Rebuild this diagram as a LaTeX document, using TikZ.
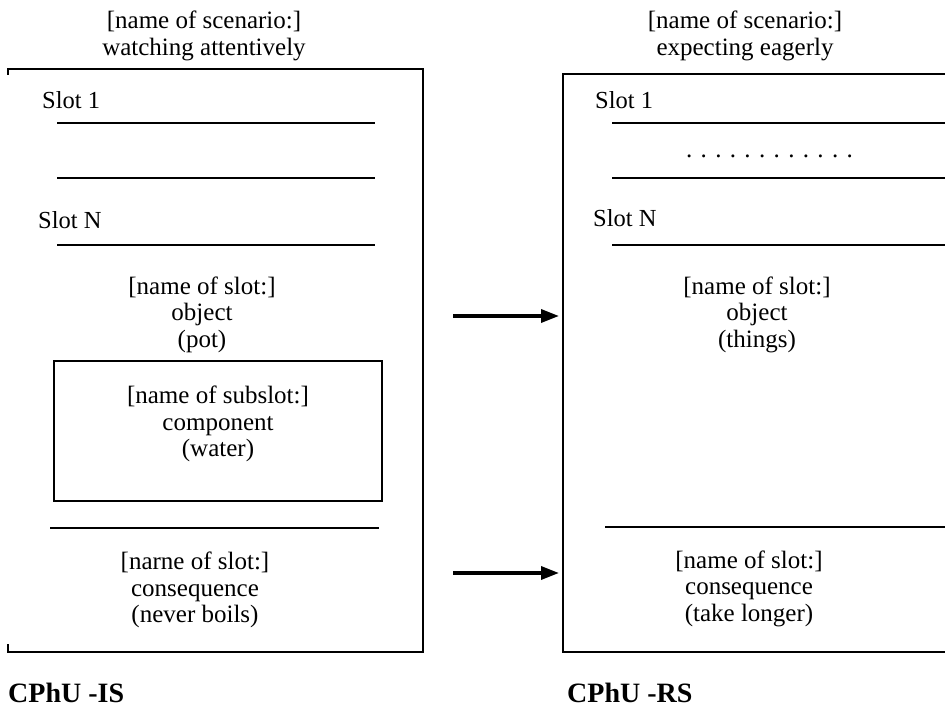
\documentclass[tikz,border=0pt]{standalone}
\usepackage{fontspec}
\setmainfont{Liberation Serif}
\usetikzlibrary{arrows.meta}
\begin{document}
\begin{tikzpicture}[x=1bp,y=-1bp,
  txt/.style={font=\fontsize{25bp}{26.5bp}\selectfont, inner sep=0pt, align=center},
  slotlbl/.style={font=\fontsize{24.5bp}{26.5bp}\selectfont, inner sep=0pt, anchor=west},
  unitlbl/.style={font=\fontsize{28bp}{30bp}\selectfont\bfseries, inner sep=0pt, anchor=west},
  frame/.style={line width=2.6bp},
  rule/.style={line width=2.6bp},
  thinrule/.style={line width=2bp},
  link/.style={line width=3.3bp, -{Triangle[length=18bp,width=13bp]}}
]
\useasboundingbox (0,0) rectangle (945,709);

% ---------- left scenario: watching attentively ----------
\node[txt] (titleL) at (204,36) {[name of scenario:]\\watching attentively};
\draw[frame] (8,75) -- (8,69) -- (423,69) -- (423,652) -- (8,652) -- (8,644);
\node[slotlbl] (slot1L) at (42,100) {Slot 1};
\draw[rule] (57,123) -- (375,123);
\draw[rule] (57,178) -- (375,178);
\node[slotlbl] (slotNL) at (38,220) {Slot N};
\draw[rule] (57,245) -- (375,245);
\node[txt] (objL) at (202,314.5) {[name of slot:]\\object\\(pot)};
\node[draw, frame, inner sep=0pt, minimum width=328bp, minimum height=140bp] (subslot) at (218,431) {};
\node[txt] (subslotTxt) at (218,424) {[name of subslot:]\\component\\(water)};
\draw[thinrule] (50,528) -- (379,528);
\node[txt] (consL) at (195,590) {[narne of slot:]\\consequence\\(never boils)};
\node[unitlbl] (unitL) at (8,693) {CPhU -IS};

% ---------- right scenario: expecting eagerly ----------
\node[txt] (titleR) at (745,36) {[name of scenario:]\\expecting eagerly};
\draw[frame] (945,74) -- (563,74) -- (563,652) -- (945,652);
\node[slotlbl] (slot1R) at (595,100) {Slot 1};
\draw[thinrule] (612,123) -- (945,123);
\node[txt] (dotsR) at (769.5,156) {. . . . . . . . . . . .};
\draw[thinrule] (612,178) -- (945,178);
\node[slotlbl] (slotNR) at (593,218) {Slot N};
\draw[thinrule] (612,245) -- (945,245);
\node[txt] (objR) at (757,314.5) {[name of slot:]\\object\\(things)};
\draw[thinrule] (605,527) -- (945,527);
\node[txt] (consR) at (749,588.5) {[name of slot:]\\consequence\\(take longer)};
\node[unitlbl] (unitR) at (567,693) {CPhU -RS};

% ---------- mapping arrows ----------
\coordinate (objFrom) at (453,316);
\coordinate (objTo) at (559,316);
\coordinate (consFrom) at (453,573);
\coordinate (consTo) at (559,573);
\draw[link] (objFrom) -- (objTo);
\draw[link] (consFrom) -- (consTo);
\end{tikzpicture}
\end{document}
